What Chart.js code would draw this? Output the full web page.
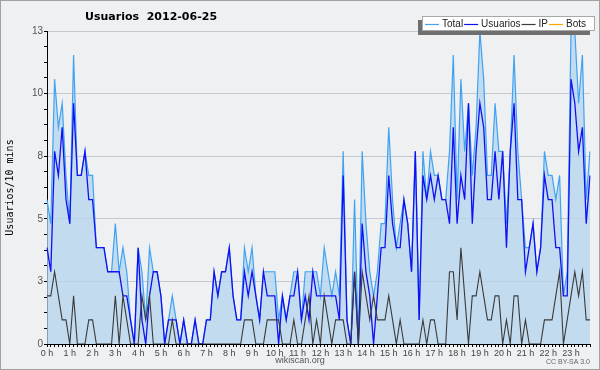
<!DOCTYPE html>
<html lang="es">
<head>
<meta charset="utf-8">
<title>Usuarios 2012-06-25</title>
<script src="https://cdn.jsdelivr.net/npm/chart.js@4.4.1/dist/chart.umd.min.js"></script>
<style>
  html, body { margin: 0; padding: 0; background: #eef0f2; }
  #grafico { display: block; }
</style>
</head>
<body>
<canvas id="grafico" width="600" height="370"></canvas>
<script>
// Etiquetas de las horas (cada hora tiene 6 franjas de 10 minutos)
const horas = ['0 h', '1 h', '2 h', '3 h', '4 h', '5 h', '6 h', '7 h', '8 h', '9 h', '10 h', '11 h',
  '12 h', '13 h', '14 h', '15 h', '16 h', '17 h', '18 h', '19 h', '20 h', '21 h', '22 h', '23 h'];
const etiquetasY = ['0', '3', '5', '8', '10', '13'];

const total = [
  6, 5, 11, 9, 10, 7, 5, 12, 7, 7, 8, 7, 7, 4, 4, 4, 3, 3, 5, 3, 4, 3, 1, 0,
  4, 3, 1, 4, 3, 3, 2, 0, 1, 2, 1, 0, 1, 0, 0, 1, 0, 0, 1, 1, 3, 2, 3, 3,
  4, 2, 1, 1, 4, 3, 4, 2, 1, 3, 3, 3, 3, 1, 2, 1, 2, 3, 3, 1, 3, 3, 3, 3,
  2, 4, 3, 2, 3, 2, 8, 1, 0, 6, 0, 8, 5, 3, 2, 3, 5, 5, 9, 6, 4, 5, 6, 5,
  3, 8, 1, 8, 6, 8, 7, 7, 6, 6, 8, 12, 6, 11, 8, 10, 7, 9, 13, 11, 7, 7, 10, 8,
  8, 5, 8, 12, 8, 6, 4, 4, 5, 3, 4, 8, 7, 7, 6, 7, 2, 3, 13, 13, 10, 12, 6, 8
];
const usuarios = [
  4, 3, 8, 7, 9, 6, 5, 10, 7, 7, 8, 6, 6, 4, 4, 4, 3, 3, 3, 3, 2, 2, 1, 0,
  4, 1, 0, 2, 3, 3, 2, 0, 1, 1, 1, 0, 1, 0, 0, 1, 0, 0, 1, 1, 3, 2, 3, 3,
  4, 2, 1, 1, 3, 2, 3, 2, 1, 3, 2, 2, 2, 0, 2, 1, 2, 2, 3, 1, 2, 1, 3, 2,
  2, 2, 2, 2, 2, 1, 7, 1, 0, 3, 0, 5, 3, 2, 0, 2, 4, 4, 7, 5, 4, 4, 6, 5,
  3, 8, 1, 7, 6, 7, 6, 7, 6, 6, 5, 9, 5, 7, 6, 10, 5, 8, 10, 9, 6, 6, 8, 6,
  8, 4, 8, 10, 6, 6, 3, 4, 5, 3, 4, 7, 6, 6, 4, 4, 2, 2, 11, 10, 8, 9, 5, 7
];
const ip = [
  2, 2, 3, 2, 1, 1, 0, 2, 0, 0, 0, 1, 1, 0, 0, 0, 0, 0, 2, 0, 2, 1, 0, 0,
  0, 2, 1, 2, 0, 0, 0, 0, 0, 1, 0, 0, 0, 0, 0, 0, 0, 0, 0, 0, 0, 0, 0, 0,
  0, 0, 0, 0, 1, 1, 1, 0, 0, 0, 1, 1, 1, 1, 0, 0, 0, 1, 0, 0, 1, 2, 0, 1,
  0, 2, 1, 0, 1, 1, 1, 0, 0, 3, 0, 3, 2, 1, 2, 1, 1, 1, 2, 1, 0, 1, 0, 0,
  0, 0, 0, 1, 0, 1, 1, 0, 0, 0, 3, 3, 1, 4, 2, 0, 2, 2, 3, 2, 1, 1, 2, 2,
  0, 1, 0, 2, 2, 0, 1, 0, 0, 0, 0, 1, 1, 1, 2, 3, 0, 1, 2, 3, 2, 3, 1, 1
];
const bots = [];

// 144 franjas: la etiqueta de la hora en la primera, vacío en las demás
const franjas = [];
horas.forEach(h => { franjas.push(h); for (let k = 0; k < 5; k++) franjas.push(''); });

const FUENTE = "'DejaVu Sans', Verdana, sans-serif";
const FUENTE_FINA = "'Liberation Sans', Arial, sans-serif";

// Fondo, marco, título, leyenda y pie de página
const decorado = {
  id: 'decorado',
  beforeDraw(chart) {
    const c = chart.ctx;
    c.save();
    c.fillStyle = '#eef0f2';
    c.fillRect(0, 0, chart.width, chart.height);
    c.restore();
  },
  afterDraw(chart) {
    const c = chart.ctx;
    c.save();
    c.strokeStyle = '#a0a0a0';
    c.lineWidth = 1;
    c.strokeRect(0.5, 0.5, chart.width - 1, chart.height - 1);

    c.fillStyle = '#000';
    c.font = 'bold 11px ' + FUENTE;
    c.textBaseline = 'middle';
    c.fillText('Usuarios  2012-06-25', 85, 17);

    // leyenda con sombra
    c.fillStyle = '#6f6f6f';
    c.fillRect(418, 20, 172, 15);
    c.fillStyle = '#fff';
    c.fillRect(422, 16, 173, 15);
    c.strokeStyle = '#a8a8a8';
    c.strokeRect(422.5, 16.5, 172, 14);
    c.font = '10px ' + FUENTE_FINA;
    let x = 425;
    chart.data.datasets.forEach(ds => {
      c.strokeStyle = ds.borderColor;
      c.lineWidth = 1.2;
      c.beginPath();
      c.moveTo(x, 24.5);
      c.lineTo(x + 14, 24.5);
      c.stroke();
      c.fillStyle = '#222';
      c.fillText(ds.label, x + 17, 24.5);
      x += 17 + c.measureText(ds.label).width + 1;
    });

    c.fillStyle = '#555';
    c.font = '9px ' + FUENTE_FINA;
    c.textAlign = 'center';
    c.fillText('wikiscan.org', 300, 361);
    c.font = '7px ' + FUENTE_FINA;
    c.textAlign = 'right';
    c.fillStyle = '#666';
    c.fillText('CC BY-SA 3.0', 590, 362);
    c.restore();
  }
};

const ctx = document.getElementById('grafico').getContext('2d');

const grafico = new Chart(ctx, {
  type: 'line',
  data: {
    labels: franjas,
    datasets: [
      {
        label: 'Total',
        data: total,
        borderColor: '#3fa2f2',
        backgroundColor: 'rgba(180, 212, 238, 0.75)',
        fill: 'origin',
        borderWidth: 1.2,
        order: 4
      },
      {
        label: 'Usuarios',
        data: usuarios,
        borderColor: '#1010f5',
        borderWidth: 1.3,
        fill: false,
        order: 3
      },
      {
        label: 'IP',
        data: ip,
        borderColor: '#3a3a3a',
        borderWidth: 1.1,
        fill: false,
        order: 1
      },
      {
        label: 'Bots',
        data: bots,
        borderColor: '#ffa500',
        borderWidth: 1.2,
        fill: false,
        order: 2
      }
    ]
  },
  options: {
    responsive: false,
    animation: false,
    devicePixelRatio: 1,
    elements: { point: { radius: 0, hoverRadius: 0 }, line: { tension: 0 } },
    layout: { padding: { top: 31, right: 10, bottom: 12, left: 0 } },
    plugins: {
      legend: { display: false },
      title: { display: false },
      tooltip: { enabled: false }
    },
    scales: {
      x: {
        type: 'category',
        offset: false,
        border: { color: '#000', width: 1 },
        grid: { drawOnChartArea: false, drawTicks: true, tickLength: 3, tickColor: '#000' },
        ticks: {
          autoSkip: false,
          maxRotation: 0,
          padding: 1,
          color: '#444',
          font: { family: FUENTE_FINA, size: 9 },
          callback: function(v, i) { return franjas[i]; }
        },
        afterFit: function(scale) { scale.height = 14; }
      },
      y: {
        min: 0,
        max: 13,
        border: { color: '#000', width: 1 },
        grid: {
          color: ctx => (ctx.index % 4 === 0 ? '#c8c9cc' : 'rgba(0,0,0,0)'),
          tickColor: '#000',
          tickLength: 3
        },
        ticks: {
          stepSize: 0.65,
          autoSkip: false,
          padding: 1,
          color: '#555',
          font: { family: FUENTE_FINA, size: 10 },
          callback: function(v, i) { return i % 4 === 0 ? etiquetasY[i / 4] : ''; }
        },
        title: {
          display: true,
          text: 'Usuarios/10 mins',
          color: '#000',
          font: { family: "'DejaVu Sans Mono', monospace", size: 10 },
          padding: { top: 4, bottom: 0 }
        },
        afterFit: function(scale) { scale.width = 47; }
      }
    }
  },
  plugins: [decorado]
});
</script>
</body>
</html>
